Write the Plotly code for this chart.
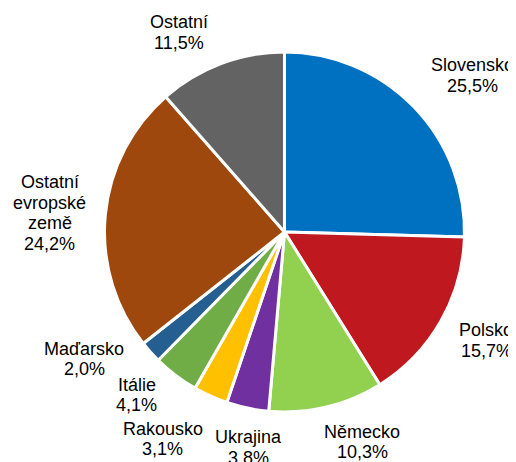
import plotly.graph_objects as go

# Data
countries = ["Slovensko", "Polsko", "Německo", "Ukrajina", "Rakousko", "Itálie",
             "Maďarsko", "Ostatní evropské země", "Ostatní"]
shares = [25.5, 15.7, 10.3, 3.8, 3.1, 4.1, 2.0, 24.2, 11.5]
label_lines = [["Slovensko"], ["Polsko"], ["Německo"], ["Ukrajina"], ["Rakousko"],
               ["Itálie"], ["Maďarsko"], ["Ostatní", "evropské", "země"], ["Ostatní"]]

# Styles / layout
colors = ["#0070C0", "#C0181F", "#92D050", "#7030A0", "#FFC000", "#70AD47",
          "#255E91", "#9E480E", "#636363"]
OFF = 8  # page body margin
W, H = 516 - OFF, 462 - OFF
cx, cy, r = 284.5 - OFF, 232 - OFF, 180
# label anchor (center x, middle of first line y), in window pixels from top-left
label_pos = [(472, 65), (486, 330), (362, 431.5), (248, 437), (162.5, 428.5),
             (136.5, 384.5), (84, 348.5), (49.5, 182), (179, 22)]
line_gap = 20.6

fig = go.Figure(go.Pie(
    labels=countries,
    values=shares,
    sort=False,
    direction="clockwise",
    rotation=0,
    marker=dict(colors=colors, line=dict(color="white", width=3)),
    textinfo="none",
    hoverinfo="label+percent",
    showlegend=False,
    domain=dict(x=[(cx - r) / W, (cx + r) / W],
                y=[(H - cy - r) / H, (H - cy + r) / H]),
))

annotations = []
for lines, v, (px, py) in zip(label_lines, shares, label_pos):
    all_lines = lines + [f"{v:.1f}".replace(".", ",") + "%"]
    for i, t in enumerate(all_lines):
        y = py - OFF + i * line_gap
        annotations.append(dict(
            x=(px - OFF) / W, y=1 - y / H, xref="paper", yref="paper",
            text=t, showarrow=False, xanchor="center", yanchor="middle",
            font=dict(family="Arial, Liberation Sans, sans-serif", size=18, color="#000000"),
        ))

fig.update_layout(
    width=W, height=H,
    margin=dict(l=0, r=0, t=0, b=0),
    paper_bgcolor="white", plot_bgcolor="white",
    annotations=annotations,
)

fig.write_html("out.html")
